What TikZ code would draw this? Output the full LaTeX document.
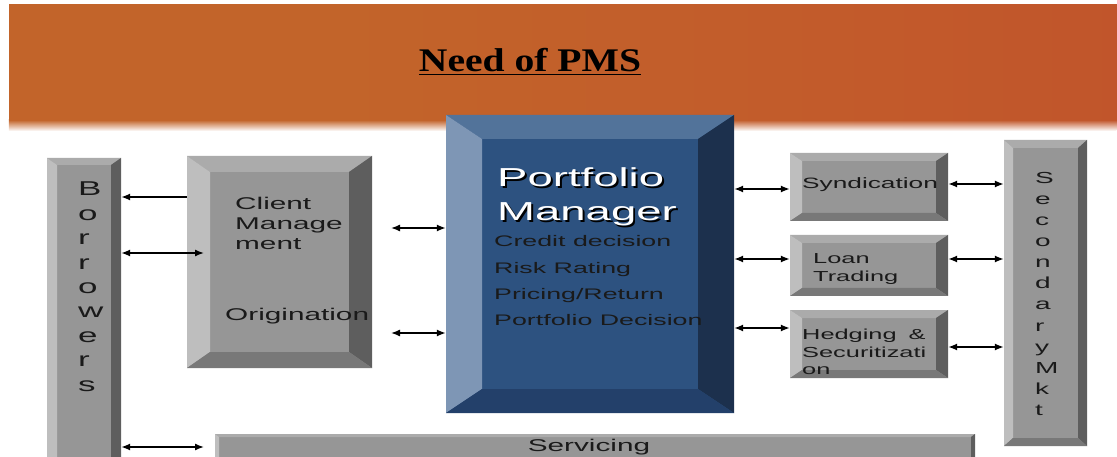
\documentclass[tikz,border=0pt]{standalone}
\usepackage{fontspec}
\setmainfont{Liberation Sans}
\newfontfamily\wsans[FakeStretch=1.75]{Liberation Sans}
\newfontfamily\tserif[FakeStretch=1.2]{Liberation Serif}
\usetikzlibrary{arrows.meta,fit,fadings,calc}
\definecolor{hdrL}{HTML}{C2642A}
\definecolor{hdrM}{HTML}{C25B2B}
\definecolor{hdrR}{HTML}{BF4A2B}
\pgfdeclarehorizontalshading{hdrshade}{100bp}{color(0bp)=(hdrL); color(40bp)=(hdrL); color(62bp)=(hdrM); color(100bp)=(hdrR)}
\definecolor{gFace}{HTML}{969696}
\definecolor{gTop}{HTML}{ABABAB}
\definecolor{gLeft}{HTML}{BEBEBE}
\definecolor{gRight}{HTML}{5E5E5E}
\definecolor{gBot}{HTML}{787878}
\definecolor{bFace}{HTML}{2D5280}
\definecolor{bTop}{HTML}{52739A}
\definecolor{bLeft}{HTML}{7E96B5}
\definecolor{bRight}{HTML}{1C304D}
\definecolor{bBot}{HTML}{23406A}
\definecolor{ink}{HTML}{1A1A1A}
\tikzset{
  gface/.style={fill=gFace}, gtop/.style={fill=gTop}, gleft/.style={fill=gLeft},
  gright/.style={fill=gRight}, gbot/.style={fill=gBot},
  bface/.style={fill=bFace}, btop/.style={fill=bTop}, bleft/.style={fill=bLeft},
  bright/.style={fill=bRight}, bbot/.style={fill=bBot},
  lbl/.style={inner sep=0pt, text=ink},
  arr/.style={line width=1.4pt, -{Latex[length=9pt,width=7pt]}},
  dbl/.style={line width=1.4pt, {Latex[length=9pt,width=7pt]}-{Latex[length=9pt,width=7pt]}},
}
% #1 name, #2 x1, #3 y1, #4 x2, #5 y2, #6 dx, #7 dy, #8 palette
\newcommand\bevelbox[8]{%
  \fill[#8face] (#2,#3) rectangle (#4,#5);
  \fill[#8top] (#2,#3) -- (#4,#3) -- ({#4-#6},{#3+#7}) -- ({#2+#6},{#3+#7}) -- cycle;
  \fill[#8left] (#2,#3) -- ({#2+#6},{#3+#7}) -- ({#2+#6},{#5-#7}) -- (#2,#5) -- cycle;
  \fill[#8right] (#4,#3) -- ({#4-#6},{#3+#7}) -- ({#4-#6},{#5-#7}) -- (#4,#5) -- cycle;
  \fill[#8bot] (#2,#5) -- ({#2+#6},{#5-#7}) -- ({#4-#6},{#5-#7}) -- (#4,#5) -- cycle;
  \node[inner sep=0pt, fit={(#2,#3) (#4,#5)}] (#1) {};
}
\begin{document}
\begin{tikzpicture}[x=1pt,y=-1pt]
\useasboundingbox (0,0) rectangle (1117,457);
% header band
\shade[shading=hdrshade] (9,5) rectangle (1117,120);
\shade[shading=hdrshade, path fading=south] (9,120) rectangle (1117,131);
\node[inner sep=0pt, anchor=base, font=\tserif\bfseries\fontsize{33}{36}\selectfont] (title) at (530,72) {\underline{Need of PMS}};

% boxes
\bevelbox{bor}{47}{158}{121}{470}{10}{7}{g}
\bevelbox{cm}{187}{156}{372}{368}{23}{16}{g}
\bevelbox{pm}{446}{115}{734}{413}{36}{24}{b}
\bevelbox{syn}{790}{153}{948}{221}{12}{8}{g}
\bevelbox{loan}{790}{235}{948}{296}{12}{8}{g}
\bevelbox{hedge}{790}{310}{948}{378}{12}{8}{g}
\bevelbox{sec}{1004}{140}{1087}{446}{9}{8}{g}
\bevelbox{serv}{215}{434}{975}{480}{4}{3}{g}

% texts
\node[lbl, anchor=north west, align=left, font=\wsans\fontsize{20}{24.4}\selectfont] (bortxt) at (78,182) {B\\o\\r\\r\\o\\w\\e\\r\\s};
\node[lbl, anchor=north west, align=left, font=\wsans\fontsize{16}{21.1}\selectfont] (sectxt) at (1035,172) {S\\e\\c\\o\\n\\d\\a\\r\\y\\M\\k\\t};
\node[lbl, anchor=north west, align=left, font=\wsans\fontsize{17}{20}\selectfont] (cmtxt) at (235,197) {Client\\Manage\\ment};
\node[lbl, anchor=base west, font=\wsans\fontsize{17}{20}\selectfont] (orig) at (225,320) {Origination};
\node[lbl, anchor=base west, text=black, font=\wsans\fontsize{26}{30}\selectfont] (pmsh1) at (499,189) {Portfolio};
\node[lbl, anchor=base west, text=black, font=\wsans\fontsize{26}{30}\selectfont] (pmsh2) at (499,223) {Manager};
\node[lbl, anchor=base west, text=white, font=\wsans\fontsize{26}{30}\selectfont] (pmt1) at (497,187) {Portfolio};
\node[lbl, anchor=base west, text=white, font=\wsans\fontsize{26}{30}\selectfont] (pmt2) at (497,221) {Manager};
\node[lbl, anchor=base west, font=\wsans\fontsize{15.3}{18}\selectfont] (cd) at (494,247) {Credit decision};
\node[lbl, anchor=base west, font=\wsans\fontsize{15.3}{18}\selectfont] (rr) at (494,273) {Risk Rating};
\node[lbl, anchor=base west, font=\wsans\fontsize{15.3}{18}\selectfont] (pr) at (494,299.5) {Pricing/Return};
\node[lbl, anchor=base west, font=\wsans\fontsize{15.3}{18}\selectfont] (pd) at (494,325.5) {Portfolio Decision};
\node[lbl, anchor=base west, font=\wsans\fontsize{15}{18}\selectfont] (syntxt) at (802,188.5) {Syndication};
\node[lbl, anchor=north west, align=left, font=\wsans\fontsize{14.5}{17.8}\selectfont] (loantxt) at (813,253.5) {Loan\\Trading};
\node[lbl, anchor=north west, align=left, font=\wsans\fontsize{14.5}{17.8}\selectfont] (hedgetxt) at (802,328.5) {Hedging\hspace{12pt}\&\\Securitizati\\on};
\node[lbl, anchor=base, font=\wsans\fontsize{17}{20}\selectfont] (servtxt) at (589,451) {Servicing};

% connectors
\coordinate (f2) at (204,253);
\coordinate (f3) at (204,447);
\coordinate (c1) at (391,228);
\coordinate (c2) at (391,333);
\draw[arr] (cm.west |- 0,197) -- (bor.east |- 0,197);
\draw[dbl] (bor.east |- f2) -- (f2);
\draw[dbl] (bor.east |- f3) -- (f3);
\draw[dbl] (c1) -- (pm.west |- c1);
\draw[dbl] (c2) -- (pm.west |- c2);
\draw[dbl] (pm.east |- 0,189) -- (syn.west |- 0,189);
\draw[dbl] (pm.east |- 0,259) -- (loan.west |- 0,259);
\draw[dbl] (pm.east |- 0,328) -- (hedge.west |- 0,328);
\draw[dbl] (syn.east |- 0,184) -- (sec.west |- 0,184);
\draw[dbl] (loan.east |- 0,259) -- (sec.west |- 0,259);
\draw[dbl] (hedge.east |- 0,347) -- (sec.west |- 0,347);
\end{tikzpicture}
\end{document}
